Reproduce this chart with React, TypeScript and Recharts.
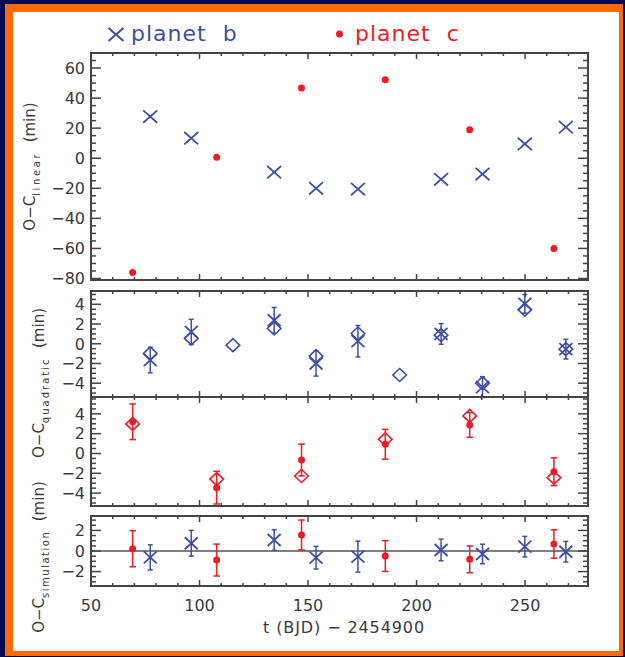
import React from "react";
import {
  ScatterChart,
  Scatter,
  XAxis,
  YAxis,
  ErrorBar,
  ReferenceArea,
  ReferenceLine,
} from "recharts";

const BLUE = "#3c4fa6";
const RED = "#ef1b24";
const AXIS = "#444444";
const TXT = "#3a3a3a";
const FONT = "'DejaVu Sans', Verdana, sans-serif";

// transit times, t (BJD) - 2454900
const tB = [77.3, 96.2, 134.4, 153.7, 173.0, 211.3, 230.4, 249.9, 268.8];
const tBModel = [77.3, 96.2, 115.4, 134.4, 153.7, 173.0, 192.2, 211.3, 230.4, 249.9, 268.8];
const tC = [69.2, 107.9, 147.0, 185.6, 224.5, 263.3];

// O-C linear (min)
const linB = [27.7, 13.3, -9.3, -20.0, -20.5, -14.0, -10.5, 9.5, 20.7];
const linC = [-76, 0.7, 46.7, 52.2, 18.9, -60];

// O-C quadratic (min)
const quadB = [-1.66, 1.2, 2.38, -2.0, 0.26, 1.0, -4.4, 4.05, -0.55];
const quadBErr = [1.29, 1.28, 1.3, 1.28, 1.6, 1.05, 1.05, 0.95, 1.0];
const quadBModel = [-0.98, 0.54, -0.14, 1.55, -1.25, 1.04, -3.17, 0.87, -4.0, 3.46, -0.55];
const quadC = [3.2, -3.45, -0.66, 0.93, 2.88, -1.84];
const quadCErr = [1.8, 1.65, 1.6, 1.5, 1.25, 1.4];
const quadCModel = [2.98, -2.58, -2.27, 1.43, 3.79, -2.44];

// O-C simulation (min)
const simB = [-0.62, 0.75, 1.07, -0.65, -0.55, 0.1, -0.29, 0.42, -0.07];
const simBErr = [1.22, 1.25, 1.0, 1.1, 1.5, 1.05, 0.95, 1.0, 1.0];
const simC = [0.22, -0.88, 1.56, -0.49, -0.81, 0.68];
const simCErr = [1.75, 1.55, 1.45, 1.5, 1.3, 1.38];

// tick labels
const xMajor = [50, 100, 150, 200, 250];
const yMajorLin = [-80, -60, -40, -20, 0, 20, 40, 60];
const yMajorQuad = [-4, -2, 0, 2, 4];
const yMajorSim = [-2, 0, 2];

const steps = (from: number, to: number, step: number) => {
  const out: number[] = [];
  for (let v = from; v <= to + 1e-9; v += step) out.push(Math.round(v * 100) / 100);
  return out;
};

const pts = (xs: number[], ys: number[], err?: number[]) =>
  xs.map((x, i) => ({ x, y: ys[i], err: err ? err[i] : 0 }));

const W = 625;
const X0 = 91;
const X1 = 588;
const X_DOMAIN: [number, number] = [50, 279];
const xTicks = steps(50, 270, 10);

const fmt = (v: number) => (v < 0 ? "\u2212" + Math.abs(v) : String(v));

const Cross = ({ cx, cy, w = 6.5, h = 6, color = BLUE }: any) => (
  <path
    d={`M${cx - w},${cy - h}L${cx + w},${cy + h}M${cx - w},${cy + h}L${cx + w},${cy - h}`}
    stroke={color}
    strokeWidth={1.8}
    fill="none"
  />
);

const Diamond = ({ cx, cy, color }: any) => (
  <path
    d={`M${cx},${cy - 6.5}L${cx + 6.8},${cy}L${cx},${cy + 6.5}L${cx - 6.8},${cy}Z`}
    stroke={color}
    strokeWidth={1.6}
    fill="none"
  />
);

const Dot = ({ cx, cy }: any) => <circle cx={cx} cy={cy} r={3.5} fill={RED} />;

type PanelProps = {
  plotTop: number;
  plotH: number;
  domain: [number, number];
  yMajor: number[];
  yMinorStep: number;
  showX?: boolean;
  children: React.ReactNode;
};

const Panel = ({ plotTop, plotH, domain, yMajor, yMinorStep, showX, children }: PanelProps) => {
  const xAxisH = showX ? 60 : 10;
  const top = 10;
  const bottom = 10 + plotH;
  const yTicks = steps(
    Math.ceil(domain[0] / yMinorStep) * yMinorStep,
    domain[1],
    yMinorStep
  );

  const XTick = (p: any) => {
    const v = p.payload.value;
    const major = xMajor.includes(v);
    const len = major ? 6 : 3;
    return (
      <g>
        <line x1={p.x} x2={p.x} y1={bottom} y2={bottom - len} stroke={AXIS} strokeWidth={1.5} />
        <line x1={p.x} x2={p.x} y1={top} y2={top + len} stroke={AXIS} strokeWidth={1.5} />
        {showX && major && (
          <text x={p.x} y={bottom + 25} textAnchor="middle" fontSize={16} fontFamily={FONT} fill={TXT}>
            {v}
          </text>
        )}
      </g>
    );
  };

  const YTick = (p: any) => {
    const v = p.payload.value;
    const major = yMajor.some((m) => Math.abs(m - v) < 1e-6);
    const len = major ? 10 : 5;
    return (
      <g>
        <line x1={X0} x2={X0 + len} y1={p.y} y2={p.y} stroke={AXIS} strokeWidth={1.5} />
        <line x1={X1} x2={X1 - len} y1={p.y} y2={p.y} stroke={AXIS} strokeWidth={1.5} />
        {major && (
          <text x={X0 - 6} y={p.y} dy="0.36em" textAnchor="end" fontSize={16} fontFamily={FONT} fill={TXT}>
            {fmt(v)}
          </text>
        )}
      </g>
    );
  };

  return (
    <div style={{ position: "absolute", left: 0, top: plotTop - 10 }}>
      <ScatterChart
        width={W}
        height={10 + plotH + xAxisH}
        margin={{ top: 10, right: W - X1, bottom: 0, left: X0 - 40 }}
      >
        <XAxis
          type="number"
          dataKey="x"
          domain={X_DOMAIN}
          ticks={xTicks}
          interval={0}
          allowDataOverflow
          axisLine={false}
          tickLine={false}
          height={xAxisH}
          tick={XTick}
        />
        <YAxis
          type="number"
          dataKey="y"
          domain={domain}
          ticks={yTicks}
          interval={0}
          allowDataOverflow
          axisLine={false}
          tickLine={false}
          width={40}
          tick={YTick}
        />
        <ReferenceArea
          x1={X_DOMAIN[0]}
          x2={X_DOMAIN[1]}
          y1={domain[0]}
          y2={domain[1]}
          fill="none"
          stroke={AXIS}
          strokeWidth={2}
        />
        {children}
      </ScatterChart>
    </div>
  );
};

const rotLabel = (x: number, y: number, sub: string, subSpacing: number) => (
  <text
    x={x}
    y={y}
    transform={`rotate(-90 ${x} ${y})`}
    textAnchor="middle"
    fontFamily={FONT}
    fontSize={15}
    fill={TXT}
    style={{ whiteSpace: "pre" }}
  >
    O{"\u2212"}C
    <tspan fontSize={10} dy={5} letterSpacing={subSpacing}>
      {sub}
    </tspan>
    <tspan dy={-5}>{"  (min)"}</tspan>
  </text>
);

export default function App() {
  return (
    <div
      style={{
        position: "absolute",
        left: 0,
        top: 0,
        width: 625,
        height: 657,
        background: "#010b52",
        overflow: "hidden",
      }}
    >
      <div style={{ position: "absolute", left: 5, top: 4, width: 618, height: 652, background: "#ff6a00" }} />
      <div style={{ position: "absolute", left: 13, top: 12, width: 606, height: 639, background: "#ffffff" }} />

      <Panel plotTop={53} plotH={227} domain={[-81, 70]} yMajor={yMajorLin} yMinorStep={5}>
        <Scatter data={pts(tB, linB)} isAnimationActive={false} shape={(p: any) => <Cross cx={p.cx} cy={p.cy} w={7} h={6.2} />} />
        <Scatter data={pts(tC, linC)} isAnimationActive={false} shape={(p: any) => <Dot cx={p.cx} cy={p.cy} />} />
      </Panel>

      <Panel plotTop={291} plotH={106} domain={[-5.4, 5.35]} yMajor={yMajorQuad} yMinorStep={0.5}>
        <Scatter data={pts(tBModel, quadBModel)} isAnimationActive={false} shape={(p: any) => <Diamond cx={p.cx} cy={p.cy} color={BLUE} />} />
        <Scatter data={pts(tB, quadB, quadBErr)} isAnimationActive={false} shape={(p: any) => <Cross cx={p.cx} cy={p.cy} />}>
          <ErrorBar dataKey="err" direction="y" width={2.5} stroke={BLUE} strokeWidth={1.5} isAnimationActive={false} />
        </Scatter>
      </Panel>

      <Panel plotTop={397} plotH={109} domain={[-5.3, 5.7]} yMajor={yMajorQuad} yMinorStep={0.5}>
        <Scatter data={pts(tC, quadCModel)} isAnimationActive={false} shape={(p: any) => <Diamond cx={p.cx} cy={p.cy} color={RED} />} />
        <Scatter data={pts(tC, quadC, quadCErr)} isAnimationActive={false} shape={(p: any) => <Dot cx={p.cx} cy={p.cy} />}>
          <ErrorBar dataKey="err" direction="y" width={3.3} stroke={RED} strokeWidth={1.5} isAnimationActive={false} />
        </Scatter>
      </Panel>

      <Panel plotTop={516} plotH={70} domain={[-3.4, 3.4]} yMajor={yMajorSim} yMinorStep={0.5} showX>
        <ReferenceLine y={0} stroke="#555555" strokeWidth={1.5} />
        <Scatter data={pts(tC, simC, simCErr)} isAnimationActive={false} shape={(p: any) => <Dot cx={p.cx} cy={p.cy} />}>
          <ErrorBar dataKey="err" direction="y" width={3.3} stroke={RED} strokeWidth={1.5} isAnimationActive={false} />
        </Scatter>
        <Scatter data={pts(tB, simB, simBErr)} isAnimationActive={false} shape={(p: any) => <Cross cx={p.cx} cy={p.cy} />}>
          <ErrorBar dataKey="err" direction="y" width={2.5} stroke={BLUE} strokeWidth={1.5} isAnimationActive={false} />
        </Scatter>
      </Panel>

      <svg width={625} height={657} style={{ position: "absolute", left: 0, top: 0, pointerEvents: "none" }}>
        <path d="M108.5,28L123.5,41M108.5,41L123.5,28" stroke={BLUE} strokeWidth={2} />
        <text x={131} y={41} fontFamily={FONT} fontSize={22} letterSpacing={1} fill={BLUE} style={{ whiteSpace: "pre" }}>
          {"planet  b"}
        </text>
        <circle cx={339.5} cy={34} r={3.5} fill={RED} />
        <text x={355} y={41} fontFamily={FONT} fontSize={22} letterSpacing={1} fill={RED} style={{ whiteSpace: "pre" }}>
          {"planet  c"}
        </text>

        {rotLabel(34.5, 166.5, "linear", 2.6)}
        {rotLabel(43.8, 383, "quadratic", 2.0)}
        {rotLabel(43.8, 557, "simulation", 1.5)}

        <text x={344} y={633} textAnchor="middle" fontFamily={FONT} fontSize={16} letterSpacing={0.9} fill={TXT}>
          {"t (BJD) \u2212 2454900"}
        </text>
      </svg>
    </div>
  );
}
